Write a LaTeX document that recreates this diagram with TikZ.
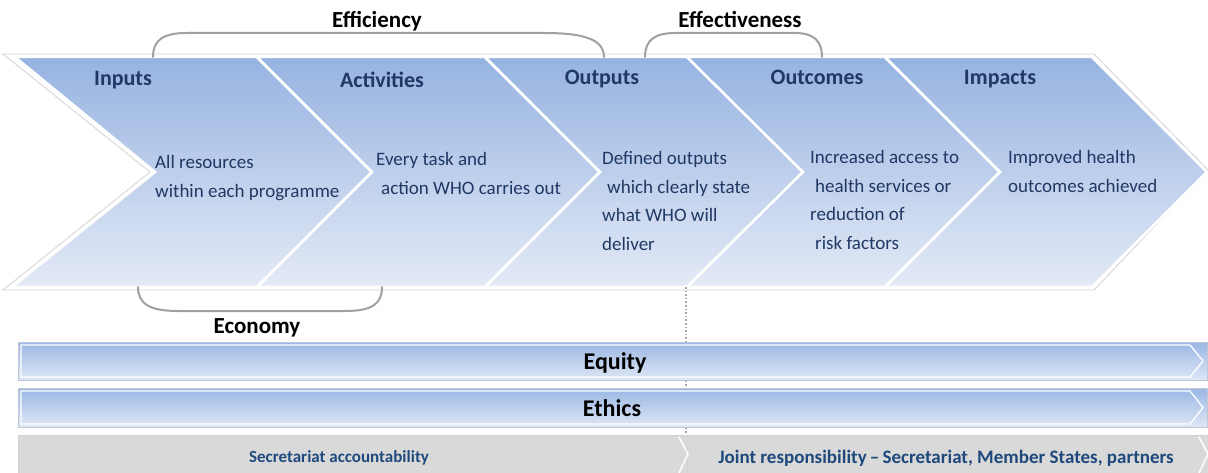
\documentclass[tikz,border=0pt]{standalone}
\usepackage{fontspec}
\setmainfont{Carlito}
\begin{document}
\begin{tikzpicture}[x=1pt,y=-1pt]
\definecolor{chTop}{RGB}{150,179,225}
\definecolor{chBot}{RGB}{228,234,246}
\definecolor{txtBlue}{RGB}{31,56,100}
\definecolor{accBlue}{RGB}{31,73,125}
\definecolor{brk}{RGB}{160,160,160}
\definecolor{barGray}{RGB}{217,217,217}
\definecolor{barTop}{RGB}{155,183,228}
\definecolor{barBot}{RGB}{222,231,245}
\definecolor{barEdge}{RGB}{190,200,215}
\tikzset{
  chev/.style={top color=chTop,bottom color=chBot,draw=white,line width=2.5pt,line join=miter},
  ttl/.style={font=\fontsize{22}{26}\selectfont\bfseries,text=txtBlue,inner sep=0,anchor=base},
  body/.style={font=\fontsize{19}{23}\selectfont,text=txtBlue,inner sep=0,anchor=base west},
  brace/.style={draw=brk,line width=2pt,line cap=round},
  lbl/.style={font=\fontsize{23}{27}\selectfont\bfseries,text=black,inner sep=0,anchor=base},
  band/.style={top color=barTop,bottom color=barBot,draw=barEdge,line width=1pt},
  bandin/.style={draw=white,line width=1.3pt},
  grayband/.style={fill=barGray,draw=gray!35,line width=0.8pt},
  acc/.style={font=\fontsize{17}{20}\selectfont\bfseries,text=accBlue,inner sep=0,anchor=base},
}
\useasboundingbox (0,0) rectangle (1208,473);
% outer frame of chevron band
\draw[gray!35,line width=0.8pt] (3,54) -- (1094,54) -- (1208,170) -- (1094,290) -- (3,290) -- (150,172) -- cycle;
% chevrons
\path[chev] (15,57) -- (257,57) -- (372,172) -- (257,287) -- (12,287) -- (155,172) -- cycle;
\path[chev] (257,57) -- (485,57) -- (600,172) -- (485,287) -- (257,287) -- (372,172) -- cycle;
\path[chev] (485,57) -- (687,57) -- (803,172) -- (687,287) -- (485,287) -- (600,172) -- cycle;
\path[chev] (687,57) -- (885,57) -- (1000,172) -- (885,287) -- (687,287) -- (803,172) -- cycle;
\path[chev] (885,57) -- (1092,57) -- (1207,172) -- (1092,287) -- (885,287) -- (1000,172) -- cycle;
% titles
\node[ttl] (tin) at (123,86) {Inputs};
\node[ttl] (tact) at (382,88) {Activities};
\node[ttl] (tout) at (602,85) {Outputs};
\node[ttl] (toc) at (817,85) {Outcomes};
\node[ttl] (tim) at (1000,85) {Impacts};
% body texts
\node[body] (in1) at (155,169) {All resources};
\node[body] (in2) at (155,198) {within each programme};
\node[body] (ac1) at (376,166) {Every task and};
\node[body] (ac2) at (381,195) {action WHO carries out};
\node[body] (ou1) at (602,165) {Defined outputs};
\node[body] (ou2) at (607,194) {which clearly state};
\node[body] (ou3) at (602,222) {what WHO will};
\node[body] (ou4) at (602,251) {deliver};
\node[body] (oc1) at (810,164) {Increased access to};
\node[body] (oc2) at (815,193) {health services or};
\node[body] (oc3) at (810,221) {reduction of};
\node[body] (oc4) at (815,250) {risk factors};
\node[body] (im1) at (1008,164) {Improved health};
\node[body] (im2) at (1008,193) {outcomes achieved};
% brackets
\draw[brace] (153,57) .. controls (153,40) and (163,33) .. (187,33) -- (545,33) .. controls (590,33) and (604,42) .. (604,57);
\draw[brace] (645,57) .. controls (645,40) and (655,33) .. (675,33) -- (795,33) .. controls (815,33) and (822,42) .. (822,57);
\draw[brace] (138,287) .. controls (138,304) and (150,311) .. (178,311) -- (345,311) .. controls (372,311) and (382,304) .. (382,287);
\node[lbl] (eff) at (377,28) {Efficiency};
\node[lbl] (effv) at (740,28) {Effectiveness};
\node[lbl] (eco) at (257,333) {Economy};
% dotted divider
\coordinate (d1) at (686,287);
\coordinate (d2) at (686,437);
\draw[gray!70,dotted,line width=1.6pt] (d1) -- (d2);
% equity / ethics bands
\path[band] (18,342) rectangle (1207,380);
\draw[bandin] (21,345) -- (1190,345) -- (1203,361) -- (1190,377) -- (21,377) -- cycle;
\path[band] (18,388) rectangle (1207,427);
\draw[bandin] (21,391) -- (1190,391) -- (1203,407.5) -- (1190,424) -- (21,424) -- cycle;
\node[lbl,font=\fontsize{24}{28}\selectfont\bfseries] (equ) at (615,369) {Equity};
\node[lbl,font=\fontsize{24}{28}\selectfont\bfseries] (eth) at (612,416) {Ethics};
% responsibility bands
\path[grayband] (18,435) rectangle (687,476);
\path[grayband] (687,435) rectangle (1210,476);
\draw[white,line width=1.5pt] (679,437) -- (688,454) -- (679,473);
\draw[white,line width=1.5pt] (1199,437) -- (1208,454) -- (1199,473);
\node[acc] (sec) at (339,462) {Secretariat accountability};
\node[acc,font=\fontsize{19}{22}\selectfont\bfseries] (joint) at (946,463) {Joint responsibility\,--\,Secretariat, Member States, partners};
\end{tikzpicture}
\end{document}
